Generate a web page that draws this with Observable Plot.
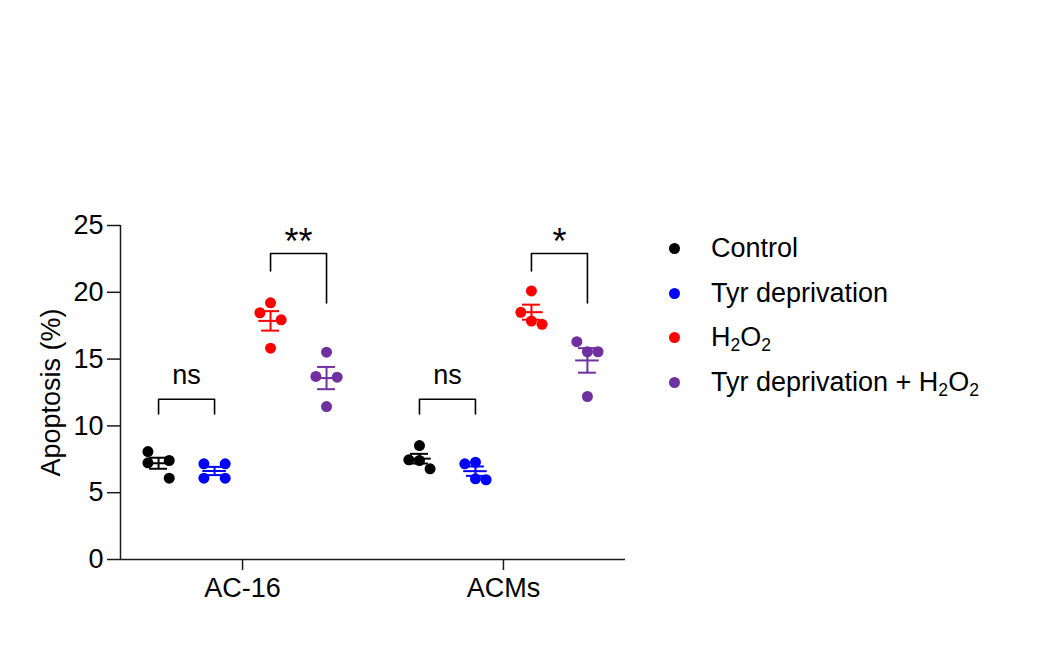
<!DOCTYPE html>
<html>
<head>
<meta charset="utf-8">
<script src="https://cdn.jsdelivr.net/npm/d3@7"></script>
<script src="https://cdn.jsdelivr.net/npm/@observablehq/plot@0.6"></script>
<style>
  html, body { margin: 0; padding: 0; background: #fff; }
  #wrap { position: relative; width: 1037px; height: 653px; font-family: "Liberation Sans", Arial, sans-serif; }
  #legend { position: absolute; left: 664px; top: 226px; font-size: 27px; color: #000; }
  .row { display: flex; align-items: center; height: 44.7px; }
  .sw { width: 11px; height: 11px; border-radius: 50%; margin-right: 31.5px; margin-left: 4.5px; flex: none; }
  sub { font-size: 0.65em; vertical-align: -0.3em; line-height: 0; }
</style>
</head>
<body>
<div id="wrap"><div id="chart"></div><div id="legend"></div></div>
<script>
// ---- data ----
const cellLines = ["AC-16", "ACMs"];
const treatments = ["Control", "Tyr deprivation", "H2O2", "Tyr deprivation + H2O2"];
const treatmentLabels = ["Control", "Tyr deprivation", "H<sub>2</sub>O<sub>2</sub>", "Tyr deprivation + H<sub>2</sub>O<sub>2</sub>"];
const colors = ["#000000", "#0000ff", "#ff0000", "#7030a0"];

// apoptosis (%) per treatment, AC-16
const ac16Values = [
  [8.08, 7.24, 7.41, 6.09],
  [7.16, 7.16, 6.09, 6.09],
  [19.21, 18.47, 17.94, 15.82],
  [15.52, 13.70, 13.65, 11.45]
];
// apoptosis (%) per treatment, ACMs
const acmsValues = [
  [8.53, 7.46, 7.41, 6.79],
  [7.16, 7.28, 6.04, 5.97],
  [20.10, 18.50, 17.85, 17.60],
  [16.30, 15.55, 15.55, 12.20]
];
// scatter column slot of each point (-1 left, 0 centre, 1 right)
const ac16Slots = [[-1, -1, 1, 1], [-1, 1, -1, 1], [0, -1, 1, 0], [0, -1, 1, 0]];
const acmsSlots = [[0, -1, 0, 1], [-1, 0, 0, 1], [0, -1, 0, 1], [-1, 0, 1, 0]];

const yTicks = [0, 5, 10, 15, 20, 25];

// significance annotations: group, treatments compared, label, bracket heights (data units)
const comparisons = [
  {group: 0, a: 0, b: 1, label: "ns", top: 12.0, aEnd: 10.9, bEnd: 10.9, labelY: 13.8},
  {group: 0, a: 2, b: 3, label: "**", top: 22.9, aEnd: 21.6, bEnd: 19.2, labelY: 24.1},
  {group: 1, a: 0, b: 1, label: "ns", top: 12.0, aEnd: 10.9, bEnd: 10.9, labelY: 13.8},
  {group: 1, a: 2, b: 3, label: "*", top: 22.9, aEnd: 21.6, bEnd: 19.2, labelY: 24.1}
];

// ---- layout constants ----
const groupStep = 4.66;   // distance between cell-line groups (in treatment units)
const slotStep = 0.19;
const xDomain = [-0.68, 8.34];
const pos = (g, t) => g * groupStep + t;
const groupCenters = cellLines.map((_, g) => pos(g, 1.5));

// ---- build tables ----
const allValues = [ac16Values, acmsValues];
const allSlots = [ac16Slots, acmsSlots];
const points = [];
const stats = [];
cellLines.forEach((cl, g) => {
  treatments.forEach((tr, t) => {
    const vals = allValues[g][t];
    vals.forEach((v, i) => points.push({cell: cl, treatment: tr, value: v, x: pos(g, t) + allSlots[g][t][i] * slotStep}));
    const m = d3.mean(vals);
    const sem = d3.deviation(vals) / Math.sqrt(vals.length);
    stats.push({cell: cl, treatment: tr, x: pos(g, t), mean: m, lo: m - sem, hi: m + sem});
  });
});
const bracketPts = [];
comparisons.forEach((c, k) => {
  const xa = pos(c.group, c.a), xb = pos(c.group, c.b);
  bracketPts.push({k, x: xa, y: c.aEnd}, {k, x: xa, y: c.top}, {k, x: xb, y: c.top}, {k, x: xb, y: c.bEnd});
});
const labels = comparisons.map(c => ({x: pos(c.group, (c.a + c.b) / 2), y: c.labelY, label: c.label}));

const colorScale = {domain: treatments, range: colors};
const axisColor = "#1a1a1a";

const chart = Plot.plot({
  width: 1037,
  height: 653,
  marginLeft: 120,
  marginRight: 412,
  marginTop: 225,
  marginBottom: 94,
  x: {domain: xDomain, axis: null},
  y: {domain: [0, 25], axis: null},
  color: colorScale,
  style: {fontFamily: "Liberation Sans, Arial, sans-serif", fontSize: "27px", color: "#000", background: "#fff"},
  marks: [
    Plot.axisY({ticks: yTicks, tickSize: 13, tickPadding: 4, fontSize: 27, label: null, stroke: axisColor, strokeWidth: 1.5}),
    Plot.ruleX([xDomain[0]], {y1: 0, y2: 25, stroke: axisColor, strokeWidth: 1.5}),
    Plot.ruleY([0], {stroke: axisColor, strokeWidth: 1.5}),
    Plot.axisX({ticks: groupCenters, tickFormat: d => cellLines[groupCenters.indexOf(d)], tickSize: 11, tickPadding: 7, fontSize: 27, label: null, stroke: axisColor, strokeWidth: 1.5}),
    Plot.text(["Apoptosis (%)"], {frameAnchor: "left", textAnchor: "middle", lineAnchor: "middle", dx: -69, rotate: -90, fontSize: 27, fill: "#000"}),
    Plot.dot(points, {x: "x", y: "value", r: 5.5, fill: "treatment", stroke: null}),
    Plot.ruleY(stats, {y: "mean", x1: d => d.x - 0.21, x2: d => d.x + 0.21, stroke: "treatment", strokeWidth: 2}),
    Plot.ruleY(stats, {y: "hi", x1: d => d.x - 0.16, x2: d => d.x + 0.16, stroke: "treatment", strokeWidth: 2}),
    Plot.ruleY(stats, {y: "lo", x1: d => d.x - 0.16, x2: d => d.x + 0.16, stroke: "treatment", strokeWidth: 2}),
    Plot.ruleX(stats, {x: "x", y1: "lo", y2: "hi", stroke: "treatment", strokeWidth: 2}),
    Plot.line(bracketPts, {x: "x", y: "y", z: "k", stroke: "#000", strokeWidth: 1.6, curve: "linear"}),
    Plot.text(labels.filter(d => d.label === "ns"), {x: "x", y: "y", text: "label", fontSize: 27, fill: "#000"}),
    Plot.text(labels.filter(d => d.label !== "ns"), {x: "x", y: "y", text: "label", fontSize: 36, fill: "#000", lineAnchor: "middle", dy: 5, style: "letter-spacing: 5px"})
  ]
});
document.getElementById("chart").appendChild(chart);

// legend
const legend = document.getElementById("legend");
treatments.forEach((t, i) => {
  const row = document.createElement("div");
  row.className = "row";
  row.innerHTML = `<span class="sw" style="background:${colors[i]}"></span><span>${treatmentLabels[i]}</span>`;
  legend.appendChild(row);
});
</script>
</body>
</html>
